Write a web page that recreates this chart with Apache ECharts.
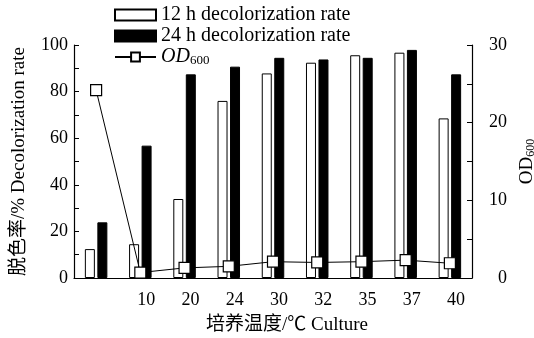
<!DOCTYPE html>
<html>
<head>
<meta charset="utf-8">
<script src="https://cdn.jsdelivr.net/npm/echarts@6/dist/echarts.min.js"></script>
<style>
  html, body { margin: 0; padding: 0; background: #fff; }
  #chart { width: 534px; height: 338px; }
</style>
</head>
<body>
<div id="chart"></div>
<script>
// Culture temperature (first group is the control, unlabeled)
const categories = ['', '10', '20', '24', '30', '32', '35', '37', '40'];
// Decolorization rate (%)
const rate12h = [12.4, 14.5, 33.9, 76.0, 87.8, 92.4, 95.6, 96.7, 68.5];
const rate24h = [23.9, 56.8, 87.4, 90.7, 94.5, 93.8, 94.5, 97.9, 87.4];
// Biomass, OD600
const od600 = [24.2, 0.7, 1.3, 1.5, 2.1, 2.0, 2.1, 2.3, 1.9];

const FONT = '"Liberation Serif", "Times New Roman", "Noto Sans CJK SC", serif';
const legendRich = {
  i: { fontFamily: FONT, fontSize: 20, fontStyle: 'italic', color: '#000' },
  s: { fontFamily: FONT, fontSize: 13, color: '#000', padding: [8, 0, 0, 0] }
};
const nameRich = {
  n: { fontFamily: FONT, fontSize: 19, color: '#000' },
  s: { fontFamily: FONT, fontSize: 12, color: '#000', padding: [7, 0, 0, 0] }
};

const chart = echarts.init(document.getElementById('chart'), null, { renderer: 'canvas' });
chart.setOption({
  animation: false,
  backgroundColor: '#fff',
  textStyle: { fontFamily: FONT, color: '#000' },
  grid: { left: 74, right: 62, top: 45, bottom: 60, outerBoundsMode: 'none', containLabel: false },
  legend: {
    orient: 'vertical',
    left: 114,
    top: 5,
    padding: 0,
    itemWidth: 41,
    itemHeight: 11,
    itemGap: 1,
    textStyle: { fontFamily: FONT, fontSize: 20, lineHeight: 20, color: '#000', rich: legendRich },
    formatter: function (name) {
      return name === 'OD600' ? '{i|OD}{s|600}' : name;
    },
    data: [
      { name: '12 h decolorization rate', icon: 'rect' },
      { name: '24 h decolorization rate', icon: 'rect' },
      { name: 'OD600' }
    ]
  },
  xAxis: {
    type: 'category',
    data: categories,
    boundaryGap: true,
    name: '培养温度/℃ Culture',
    nameLocation: 'middle',
    nameGap: 38,
    nameTextStyle: { fontFamily: FONT, fontSize: 19, color: '#000', padding: [0, 0, 0, 28] },
    axisLine: { lineStyle: { color: '#000', width: 1.2 } },
    axisTick: { inside: true, length: 6, lineStyle: { color: '#000' } },
    axisLabel: { fontFamily: FONT, fontSize: 18, color: '#000', margin: 13, padding: [0, 0, 0, 12] }
  },
  yAxis: [
    {
      type: 'value',
      min: 0,
      max: 100,
      interval: 10,
      name: '脱色率/% Decolorization rate',
      nameLocation: 'middle',
      nameGap: 45,
      nameTextStyle: { fontFamily: FONT, fontSize: 19, color: '#000' },
      axisLine: { show: true, lineStyle: { color: '#000', width: 1.2 } },
      axisTick: { show: true, inside: true, length: 5, lineStyle: { color: '#000' } },
      axisLabel: {
        fontFamily: FONT, fontSize: 18, color: '#000', margin: 6,
        formatter: function (v) { return v % 20 === 0 ? String(v) : ''; }
      },
      splitLine: { show: false }
    },
    {
      type: 'value',
      position: 'right',
      min: 0,
      max: 30,
      interval: 5,
      name: '{n|OD}{s|600}',
      nameLocation: 'middle',
      nameGap: 38,
      nameTextStyle: { fontFamily: FONT, fontSize: 19, color: '#000', rich: nameRich },
      axisLine: { show: true, lineStyle: { color: '#000', width: 1.2 } },
      axisTick: { show: true, inside: true, length: 5, lineStyle: { color: '#000' } },
      axisLabel: {
        fontFamily: FONT, fontSize: 18, color: '#000', margin: 35, align: 'right',
        formatter: function (v) { return v % 10 === 0 ? String(v) : ''; }
      },
      splitLine: { show: false }
    }
  ],
  series: [
    {
      name: '12 h decolorization rate',
      type: 'bar',
      yAxisIndex: 0,
      data: rate12h,
      barWidth: 10,
      barGap: '25%',
      itemStyle: { color: '#fff', borderColor: '#000', borderWidth: 1 }
    },
    {
      name: '24 h decolorization rate',
      type: 'bar',
      yAxisIndex: 0,
      data: rate24h,
      barWidth: 10,
      barGap: '25%',
      itemStyle: { color: '#000', borderColor: '#000', borderWidth: 1 }
    },
    {
      name: 'OD600',
      type: 'line',
      yAxisIndex: 1,
      data: od600,
      symbol: 'rect',
      symbolSize: 11,
      z: 5,
      lineStyle: { color: '#000', width: 1 },
      itemStyle: { color: '#fff', borderColor: '#000', borderWidth: 1.2 }
    }
  ]
});
</script>
</body>
</html>
